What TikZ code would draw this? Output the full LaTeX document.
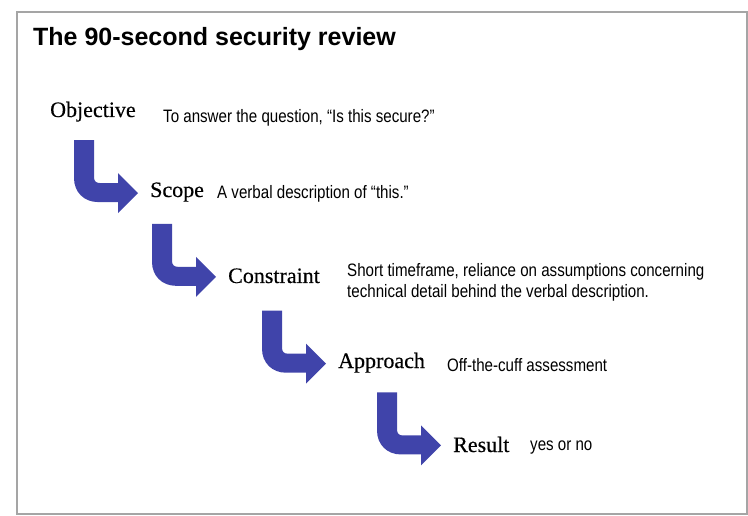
\documentclass[tikz,border=0pt]{standalone}
\usepackage{fontspec}
\setmainfont{Liberation Serif}
\newfontfamily\labelfont[FakeBold=0.4]{Liberation Serif}
\newfontfamily\notefont[FakeStretch=0.84]{Liberation Sans}
\newfontfamily\titlefont{Liberation Sans}
\definecolor{Turn}{RGB}{64,68,170}
\definecolor{Frame}{RGB}{165,165,165}
\tikzset{
  steplabel/.style={anchor=base west,inner sep=0pt,font=\labelfont\fontsize{22}{24}\selectfont},
  stepnote/.style={anchor=base west,inner sep=0pt,align=left,font=\notefont\fontsize{18}{21}\selectfont},
}
\newcommand{\drawturn}[1]{ % Parameter: label the arrow points at
  \fill[Turn] (#1.west) ++(-76,-52) -- ++(20,0) -- ++(0,37)
    .. controls +(0,4) and +(-4,0) .. ++(6,6) -- ++(18,0) -- ++(0,-10)
    -- ++(20,20) -- ++(-20,20) -- ++(0,-11) -- ++(-20,0)
    .. controls +(-14,0) and +(0,14) .. ++(-24,-24) -- cycle;
}
\begin{document}
\begin{tikzpicture}[x=1pt,y=-1pt]
  \useasboundingbox (0,0) rectangle (748,516);
  \draw[Frame,line width=2pt] (17,12) rectangle (747,514);
  \node[anchor=base west,inner sep=0pt,font=\titlefont\bfseries\fontsize{25}{27}\selectfont] (title) at (33,46) {The 90-second security review};
  % steps
  \node[steplabel] (objective) at (50,117) {Objective};
  \node[steplabel] (scope) at (150,197) {Scope};
  \node[steplabel] (constraint) at (228,283) {Constraint};
  \node[steplabel] (approach) at (338,368) {Approach};
  \node[steplabel] (result) at (453,452) {Result};
  % notes
  \node[stepnote] (objnote) at (163,123) {To answer the question, “Is this secure?”};
  \node[stepnote] (scopenote) at (217,199) {A verbal description of “this.”};
  \node[stepnote] (connote) at (347,298) {Short timeframe, reliance on assumptions concerning\\technical detail behind the verbal description.};
  \node[stepnote] (appnote) at (447,371) {Off-the-cuff assessment};
  \node[stepnote] (resnote) at (530,450) {yes or no};
  % arrows
  \drawturn{scope}
  \drawturn{constraint}
  \drawturn{approach}
  \drawturn{result}
\end{tikzpicture}
\end{document}
